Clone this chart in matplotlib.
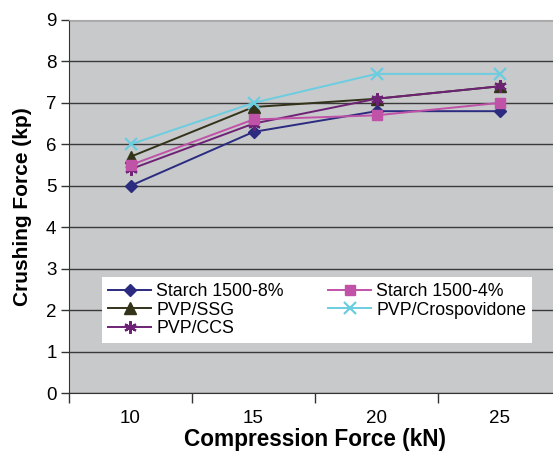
import numpy as np
import matplotlib.pyplot as plt

plt.rcParams['font.family'] = ['Liberation Sans', 'DejaVu Sans']

forces = ['10', '15', '20', '25']
starch_8 = [5.0, 6.3, 6.8, 6.8]
starch_4 = [5.5, 6.6, 6.7, 7.0]
pvp_ssg = [5.7, 6.9, 7.1, 7.4]
pvp_cros = [6.0, 7.0, 7.7, 7.7]
pvp_ccs = [5.4, 6.5, 7.1, 7.4]

fig = plt.figure(figsize=(5.53, 4.51), dpi=100)
ax = fig.add_axes([69 / 553, 1 - 393 / 451, 492 / 553, 373 / 451])
ax.set_facecolor('#C8C9CB')

x = np.arange(1, len(forces) + 1)
lines = {}
lines['s8'], = ax.plot(x, starch_8, color='#2B2B80', marker='D', ms=6, lw=1.4, label='Starch 1500-8%')
lines['ssg'], = ax.plot(x, pvp_ssg, color='#33331A', marker='^', ms=8, lw=1.4, label='PVP/SSG')
lines['ccs'], = ax.plot(x, pvp_ccs, color='#6E2275', marker=(6, 2, 0), ms=9, mew=1.6, lw=1.4, label='PVP/CCS')
lines['s4'], = ax.plot(x, starch_4, color='#C052A8', marker='s', ms=7, lw=1.4, label='Starch 1500-4%')
lines['cros'], = ax.plot(x, pvp_cros, color='#6BCDE0', marker='x', ms=9, mew=1.6, lw=1.4, label='PVP/Crospovidone')

ax.set_xlim(0.5, 4.5)
ax.set_ylim(0, 9)
ax.set_yticks(range(0, 10))
ax.set_xticks(x)
ax.set_xticklabels(forces)
ax.set_xticks(np.arange(0.5, 4.6, 1), minor=True)
ax.tick_params(axis='x', which='major', length=0, pad=12, labelsize=13.5)
ax.tick_params(axis='x', which='minor', length=7, width=1, color='#333333')
ax.tick_params(axis='y', length=6, width=1, color='#333333', labelsize=13.5, pad=3)
ax.yaxis.grid(True, color='#3a3a3a', lw=1)
ax.set_axisbelow(True)
for s in ['left', 'bottom']:
    ax.spines[s].set_color('#333333')
ax.spines['top'].set_color('#A8A8A8')
ax.spines['right'].set_visible(False)

ax.set_xlabel('Compression Force (kN)', fontsize=16.3, fontweight='bold', labelpad=1)
ax.set_ylabel('Crushing Force (kp)', fontsize=15, fontweight='bold', labelpad=10)

order = ['s8', 'ssg', 'ccs', 's4', 'cros']
leg = fig.legend([lines[k] for k in order], [lines[k].get_label() for k in order],
                 ncol=2, loc='upper left', bbox_to_anchor=(102 / 553, 1 - 277 / 451),
                 fontsize=12.8, frameon=True, fancybox=False, edgecolor='white',
                 framealpha=1, handlelength=2.4, handletextpad=0.3, columnspacing=2.5,
                 labelspacing=0.08, borderpad=0.35, borderaxespad=0)
leg.get_frame().set_linewidth(0)

fig.savefig('out.png', dpi=100)
